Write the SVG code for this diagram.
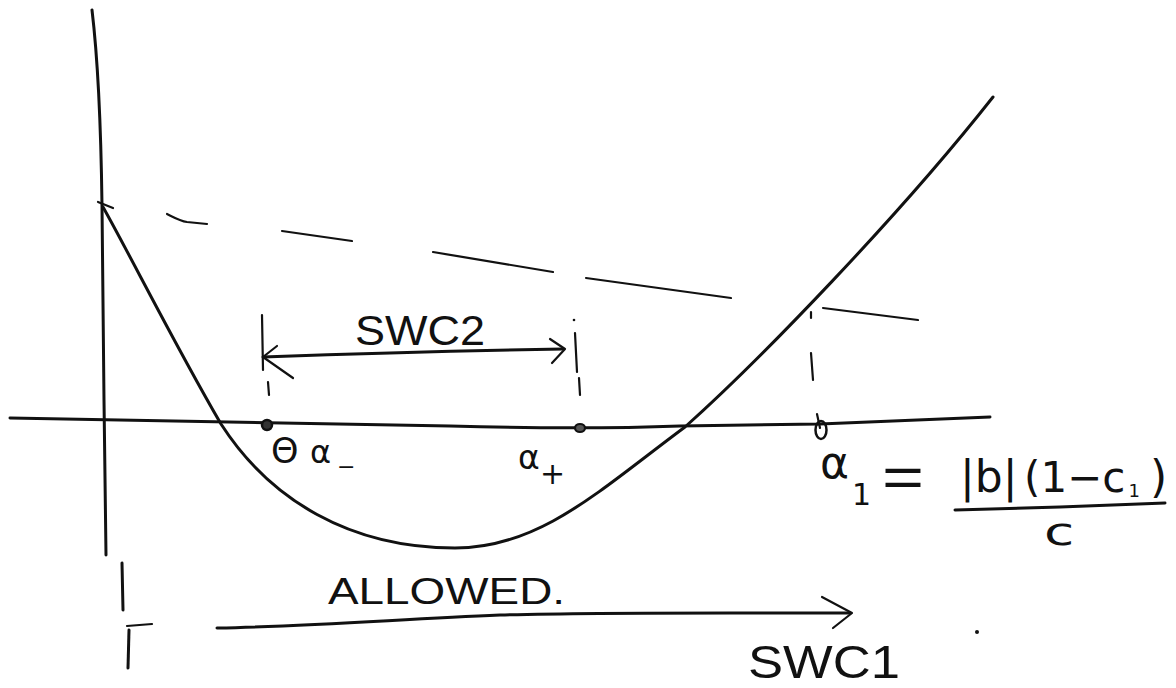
<svg xmlns="http://www.w3.org/2000/svg" width="1176" height="688" viewBox="0 0 1176 688">
<style>
.ln{fill:none;stroke:#111;stroke-width:3;stroke-linecap:round;stroke-linejoin:round}
.th{fill:none;stroke:#111;stroke-width:2.2;stroke-linecap:round;stroke-linejoin:round}
.hw{font-family:"Liberation Sans","DejaVu Sans",sans-serif;fill:#111}
.mt{font-family:"DejaVu Sans","Liberation Sans",sans-serif;fill:#111}
</style>
<rect width="1176" height="688" fill="#fff"/>
<g id="axes">
<path class="ln" d="M92,10 C98,60 101,130 102,205 L104,400 L106,555"/>
<path class="ln" d="M10,418 C150,420 300,423 450,426 C520,428 600,429 680,426 L820,424 L990,417"/>
<path class="th" d="M98,202 L113,208"/>
</g>
<g id="curve">
<path class="ln" d="M103,207 C130,255 175,345 221,424 C270,500 350,548 455,548 C540,548 600,490 685,427 C760,360 900,215 993,97"/>
</g>
<g id="tangent">
<path class="th" d="M167,214 C175,218 180,221 187,222 L207,224"/>
<path class="th" d="M282,231 L352,241"/>
<path class="th" d="M433,252 L553,272"/>
<path class="th" d="M586,278 L731,298"/>
<path class="th" d="M823,308 L918,320"/>
</g>
<g id="alpha-minus">
<circle cx="267" cy="425" r="5" fill="#333" stroke="#111" stroke-width="2.5"/>
<path class="th" d="M262,315 L263,370"/>
<path class="th" d="M268,382 L269,395"/>
<text class="mt" x="271" y="463" font-size="35">Θ</text>
<text class="mt" x="310" y="463" font-size="32">α</text>
<text class="mt" x="337" y="474" font-size="22">−</text>
</g>
<g id="alpha-plus">
<ellipse cx="580" cy="428" rx="5" ry="4" fill="#555" stroke="#111" stroke-width="2.2"/>
<circle cx="574" cy="320" r="1.3" fill="#111"/>
<path class="th" d="M575,333 L577,372"/>
<path class="th" d="M579,378 L580,395"/>
<text class="mt" x="518" y="469" font-size="33">α</text>
<text class="mt" x="540" y="484" font-size="30">+</text>
</g>
<g id="alpha-one">
<ellipse cx="821" cy="430" rx="5.5" ry="9" fill="none" stroke="#111" stroke-width="2.5"/>
<path class="th" d="M817,414 L820,428"/>
<path class="th" d="M811,312 L811,318"/>
<path class="th" d="M811,353 L813,380"/>
<text class="mt" x="820" y="478" font-size="44">α</text>
<text class="mt" x="852" y="505" font-size="30">1</text>
<text class="hw" x="882" y="497" font-size="58" textLength="42" lengthAdjust="spacingAndGlyphs">=</text>
<text class="mt" x="960" y="492" font-size="44">|b|</text>
<text class="mt" x="1024" y="492" font-size="42">(1−c<tspan font-size="18" dx="3" dy="5">1</tspan></text>
<text class="mt" x="1150" y="492" font-size="44">)</text>
<path class="ln" d="M955,510 L1060,507 L1165,503"/>
<text class="mt" transform="translate(1044,545) scale(1.45,1)" x="0" y="0" font-size="38">c</text>
</g>
<g id="swc2">
<text class="hw" x="355" y="345" font-size="42" textLength="130" lengthAdjust="spacingAndGlyphs">SWC2</text>
</g>
<g id="allowed">
<path class="ln" d="M122,563 L123,610"/>
<path class="th" d="M127,626 L152,624"/>
<path class="ln" d="M129,630 L128,668"/>
<text class="hw" x="328" y="604" font-size="37" textLength="237" lengthAdjust="spacingAndGlyphs">ALLOWED.</text>
</g>
<g id="swc1">
<text class="hw" x="748" y="678" font-size="47" textLength="152" lengthAdjust="spacingAndGlyphs">SWC1</text>
<circle cx="977" cy="632" r="2" fill="#111"/>
</g>
<g id="connectors">
<path class="ln" d="M263,357 C350,354 450,351 563,349"/>
<path class="th" d="M277,346 L263,357 L293,378"/>
<path class="th" d="M550,339 L565,349 L552,363"/>
<path class="ln" d="M217,628 C320,626 400,619 500,615 C600,612 720,613 850,613"/>
<path class="th" d="M822,597 L852,613 L833,628"/>
</g>
</svg>
